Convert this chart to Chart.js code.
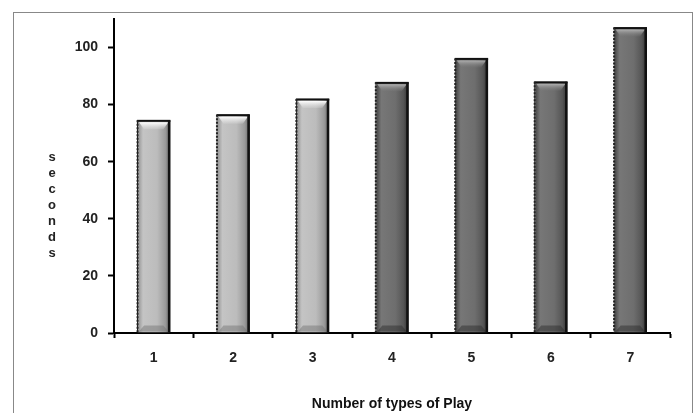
<!DOCTYPE html>
<html>
<head>
<meta charset="utf-8">
<script src="https://cdn.jsdelivr.net/npm/chart.js@4"></script>
<style>
    body { margin: 0; background: #fff; }
    #frame { position: absolute; left: 13px; top: 12px; width: 678px; height: 420px; border: 1px solid #888; }
    #wrap { position: absolute; left: 0; top: 0; width: 697px; height: 413px; }
</style>
</head>
<body>
<div id="frame"></div>
<div id="wrap"><canvas id="playChart"></canvas></div>
<script>
// values
const categories = ['1', '2', '3', '4', '5', '6', '7'];
const seconds = [74.5, 76.5, 82, 87.8, 96.2, 88, 107];
const yTicks = [0, 20, 40, 60, 80, 100];
const yTitle = 'seconds';
const xTitle = 'Number of types of Play';

const lightBars = ['#8a8a8a', '#c4c4c4', '#bcbcbc', '#9a9a9a', '#5e5e5e'];
const darkBars = ['#3c3c3c', '#777777', '#6e6e6e', '#555555', '#2e2e2e'];

function barFill(context) {
    const chart = context.chart;
    if (!chart.chartArea || !chart.scales.x) return '#999';
    const x = chart.scales.x;
    const center = x.getPixelForValue(context.dataIndex);
    const half = (x.width / categories.length) * 0.42 / 2;
    const g = chart.ctx.createLinearGradient(center - half, 0, center + half, 0);
    const stops = context.dataIndex < 3 ? lightBars : darkBars;
    g.addColorStop(0, stops[0]);
    g.addColorStop(0.18, stops[1]);
    g.addColorStop(0.6, stops[2]);
    g.addColorStop(0.85, stops[3]);
    g.addColorStop(1, stops[4]);
    return g;
}

// bevel look on the bars: light cap at the top, dark right edge, dotted left edge
const bevelPlugin = {
    id: 'bevel',
    afterDatasetsDraw(chart) {
        const ctx = chart.ctx;
        const meta = chart.getDatasetMeta(0);
        ctx.save();
        meta.data.forEach((bar, i) => {
            const left = bar.x - bar.width / 2;
            const right = bar.x + bar.width / 2;
            const top = bar.y;
            const bottom = bar.base;
            const light = i < 3;
            // top highlight
            ctx.beginPath();
            ctx.moveTo(left + 2, top + 2);
            ctx.lineTo(right - 2, top + 2);
            ctx.lineTo(right - 7, top + 9);
            ctx.lineTo(left + 7, top + 9);
            ctx.closePath();
            const g = ctx.createLinearGradient(0, top + 2, 0, top + 9);
            g.addColorStop(0, light ? '#ffffff' : '#b0b0b0');
            g.addColorStop(1, light ? 'rgba(230,230,230,0.2)' : 'rgba(120,120,120,0.2)');
            ctx.fillStyle = g;
            ctx.fill();
            // bottom shade
            ctx.beginPath();
            ctx.moveTo(left + 2, bottom - 1);
            ctx.lineTo(right - 2, bottom - 1);
            ctx.lineTo(right - 7, bottom - 7);
            ctx.lineTo(left + 7, bottom - 7);
            ctx.closePath();
            ctx.fillStyle = light ? 'rgba(110,110,110,0.45)' : 'rgba(40,40,40,0.45)';
            ctx.fill();
            // dark right edge
            ctx.fillStyle = '#111';
            ctx.fillRect(right - 2.5, top, 2.5, bottom - top);
            ctx.fillRect(left, top - 0.5, right - left, 2);
            // dotted left edge
            ctx.strokeStyle = '#222';
            ctx.lineWidth = 2;
            ctx.setLineDash([2, 1.5]);
            ctx.beginPath();
            ctx.moveTo(left + 0.5, top);
            ctx.lineTo(left + 0.5, bottom);
            ctx.stroke();
            ctx.setLineDash([]);
        });
        ctx.restore();
    }
};

// vertical stacked y title, as in the picture
const yTitlePlugin = {
    id: 'yTitle',
    afterDraw(chart) {
        const ctx = chart.ctx;
        ctx.save();
        ctx.font = 'bold 13px "Liberation Sans", Arial, sans-serif';
        ctx.fillStyle = '#222';
        ctx.textAlign = 'center';
        ctx.textBaseline = 'middle';
        const letters = yTitle.split('');
        const step = 16;
        const top = 205 - (letters.length - 1) * step / 2;
        letters.forEach((ch, i) => ctx.fillText(ch, 52, top + i * step));
        ctx.restore();
    }
};

const ctx = document.getElementById('playChart').getContext('2d');

new Chart(ctx, {
    type: 'bar',
    data: {
        labels: categories,
        datasets: [{
            data: seconds,
            backgroundColor: barFill,
            borderColor: '#111',
            borderWidth: 1,
            barPercentage: 0.42,
            categoryPercentage: 1
        }]
    },
    options: {
        responsive: true,
        maintainAspectRatio: false,
        animation: false,
        layout: { padding: { left: 40, right: 27, top: 19, bottom: 0 } },
        plugins: {
            legend: { display: false },
            tooltip: { enabled: false }
        },
        scales: {
            x: {
                offset: true,
                grid: {
                    offset: true,
                    drawOnChartArea: false,
                    drawTicks: true,
                    tickLength: 5,
                    tickWidth: 2,
                    tickColor: '#000'
                },
                border: { color: '#000', width: 2 },
                ticks: {
                    color: '#222',
                    padding: 12,
                    font: { family: '"Liberation Sans", Arial, sans-serif', size: 14, weight: 'bold' }
                },
                title: {
                    display: true,
                    text: xTitle,
                    color: '#111',
                    padding: { top: 22, bottom: 0 },
                    font: { family: '"Liberation Sans", Arial, sans-serif', size: 14, weight: 'bold' }
                },
                afterFit: s => { s.height = 80; }
            },
            y: {
                min: 0,
                max: 110,
                afterBuildTicks: s => { s.ticks = yTicks.map(v => ({ value: v })); },
                grid: {
                    drawOnChartArea: false,
                    tickLength: 6,
                    tickWidth: 2,
                    tickColor: '#000'
                },
                border: { color: '#000', width: 2 },
                ticks: {
                    color: '#222',
                    padding: 10,
                    font: { family: '"Liberation Sans", Arial, sans-serif', size: 14, weight: 'bold' }
                },
                afterFit: s => { s.width = 74; }
            }
        }
    },
    plugins: [bevelPlugin, yTitlePlugin]
});
</script>
</body>
</html>
